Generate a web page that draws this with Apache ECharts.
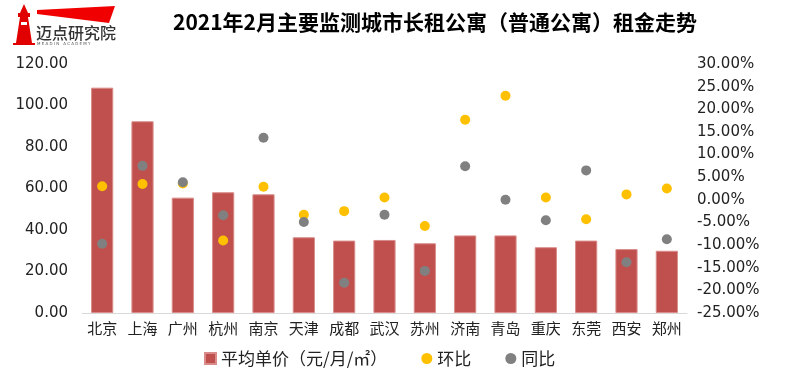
<!DOCTYPE html>
<html><head><meta charset="utf-8">
<script src="https://cdn.jsdelivr.net/npm/echarts@6/dist/echarts.min.js"></script>
<style>html,body{margin:0;padding:0;background:#fff}#c{width:800px;height:384px}</style>
</head><body><div id="c"></div>
<script>
const categories = ['北京','上海','广州','杭州','南京','天津','成都','武汉','苏州','济南','青岛','重庆','东莞','西安','郑州'];
const avgPrice = [108.6, 92.4, 55.6, 58.2, 57.2, 36.5, 34.9, 35.2, 33.6, 37.4, 37.4, 31.7, 34.9, 30.8, 30.0];
const momChange = [3.0, 3.5, 3.6, -9.0, 2.9, -3.3, -2.5, 0.5, -5.8, 17.7, 23.0, 0.5, -4.3, 1.2, 2.5];
const yoyChange = [-9.7, 7.5, 3.9, -3.4, 13.7, -4.9, -18.3, -3.3, -15.7, 7.4, 0.0, -4.5, 6.5, -13.8, -8.7];
const leftTicks = {min: 0, max: 120, interval: 20};
const rightTicks = {min: -25, max: 30, interval: 5};

const cjk = '"Noto Sans CJK SC", "DejaVu Sans", sans-serif';
const num = '"DejaVu Sans", sans-serif';
const chart = echarts.init(document.getElementById('c'));
chart.setOption({
  animation: false,
  title: {
    text: '2021年2月主要监测城市长租公寓（普通公寓）租金走势',
    left: 430, top: 7, textAlign: 'center',
    textStyle: {fontFamily: cjk, fontSize: 21, fontWeight: 'bold', color: '#000'}
  },
  graphic: [
    {type: 'polygon', shape: {points: [[37,10],[115,6],[109,23],[37,14]]}, style: {fill: '#f00000'}},
    {type: 'polygon', shape: {points: [[20,17],[28,17],[32,43],[16,43]]}, style: {fill: '#e00000'}},
    {type: 'rect', shape: {x: 18, y: 13, width: 12, height: 4}, style: {fill: '#e00000'}},
    {type: 'polygon', shape: {points: [[20,13],[24,4],[28,13]]}, style: {fill: '#e00000'}},
    {type: 'rect', shape: {x: 21, y: 22, width: 6, height: 3}, style: {fill: '#fff'}},
    {type: 'rect', shape: {x: 13, y: 43, width: 22, height: 2}, style: {fill: '#e00000'}},
    {type: 'text', left: 36, top: 25, style: {text: '迈点研究院', font: '500 16px "Noto Sans CJK SC"', fill: '#333'}},
    {type: 'text', left: 37, top: 42, style: {text: 'M E A D I N   A C A D E M Y', font: '4px "DejaVu Sans"', fill: '#555'}}
  ],
  legend: {
    bottom: 12, left: 199, itemGap: 34, itemWidth: 11, itemHeight: 11,
    textStyle: {fontFamily: cjk, fontSize: 17, color: '#222'},
    data: [
      {name: '平均单价（元/月/㎡）', icon: 'rect'},
      {name: '环比', icon: 'circle'},
      {name: '同比', icon: 'circle'}
    ]
  },
  grid: {left: 82, right: 113, top: 64, bottom: 71},
  xAxis: {
    type: 'category', data: categories,
    axisLine: {lineStyle: {color: '#d9d9d9', width: 1}},
    axisTick: {show: false},
    axisLabel: {fontFamily: cjk, fontSize: 15, color: '#222', margin: 8, interval: 0}
  },
  yAxis: [
    {type: 'value', min: leftTicks.min, max: leftTicks.max, interval: leftTicks.interval,
     splitLine: {show: false}, axisLine: {show: false}, axisTick: {show: false},
     axisLabel: {fontFamily: num, fontSize: 15, color: '#222', margin: 14, formatter: v => v.toFixed(2)}},
    {type: 'value', min: rightTicks.min, max: rightTicks.max, interval: rightTicks.interval,
     splitLine: {show: false}, axisLine: {show: false}, axisTick: {show: false},
     axisLabel: {fontFamily: num, fontSize: 15, color: '#222', margin: 10, formatter: v => v.toFixed(2) + '%'}}
  ],
  series: [
    {name: '平均单价（元/月/㎡）', type: 'bar', data: avgPrice, barWidth: '55%',
     itemStyle: {color: '#C0504D', borderColor: '#d98c8a', borderWidth: 1}},
    {name: '环比', type: 'scatter', yAxisIndex: 1, data: momChange, symbolSize: 10,
     itemStyle: {color: '#FFC000', opacity: 1}},
    {name: '同比', type: 'scatter', yAxisIndex: 1, data: yoyChange, symbolSize: 10,
     itemStyle: {color: '#808080', opacity: 1}}
  ]
});
</script></body></html>
